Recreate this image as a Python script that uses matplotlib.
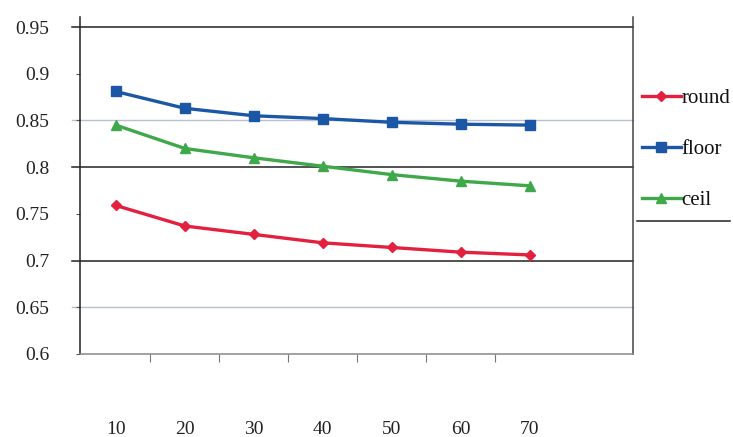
import matplotlib
matplotlib.use("Agg")
import matplotlib.pyplot as plt
from matplotlib.lines import Line2D

# ---- data ----
x_vals = [10, 20, 30, 40, 50, 60, 70]
round_vals = [0.759, 0.737, 0.728, 0.719, 0.714, 0.709, 0.706]
floor_vals = [0.881, 0.863, 0.855, 0.852, 0.848, 0.846, 0.845]
ceil_vals = [0.845, 0.820, 0.810, 0.801, 0.792, 0.785, 0.780]
y_ticks = [0.6, 0.65, 0.7, 0.75, 0.8, 0.85, 0.9, 0.95]
y_labels = ["0.6", "0.65", "0.7", "0.75", "0.8", "0.85", "0.9", "0.95"]
dark_lines = [0.95, 0.8, 0.7]
light_lines = [0.85, 0.65]

plt.rcParams["font.family"] = ["Liberation Serif", "DejaVu Serif"]

fig = plt.figure(figsize=(7.33, 4.37), dpi=100)
ax = fig.add_axes([0.109, 0.190, 0.755, 0.771])

red = "#e3213f"
blue = "#1c57a5"
green = "#3ea84a"

ax.plot(x_vals, round_vals, color=red, lw=2.4, marker="D", ms=5, label="round")
ax.plot(x_vals, floor_vals, color=blue, lw=2.4, marker="s", ms=7, label="floor")
ax.plot(x_vals, ceil_vals, color=green, lw=2.4, marker="^", ms=7, label="ceil")

# grid lines (extend a bit left of the axis like the original)
trans = ax.get_yaxis_transform()
for v in dark_lines:
    ax.plot([-0.015, 1.0], [v, v], transform=trans, color="#222222",
            lw=1.1, clip_on=False, zorder=1)
for v in light_lines:
    ax.plot([-0.015, 1.0], [v, v], transform=trans, color="#b8bfd0",
            lw=1.0, clip_on=False, zorder=1)

ax.set_xlim(4.8, 85)
ax.set_ylim(0.6, 0.9607)

ax.set_yticks(y_ticks)
ax.set_yticklabels(y_labels, fontsize=14, color="#222222")
ax.tick_params(axis="y", length=3, width=0.8, pad=19, color="#555555")

ax.set_xticks(x_vals)
ax.set_xticklabels([str(v) for v in x_vals], fontsize=14, color="#222222")
ax.tick_params(axis="x", which="major", length=0, pad=48)
ax.set_xticks([15, 25, 35, 45, 55, 65], minor=True)
ax.tick_params(axis="x", which="minor", length=6, width=0.8,
               color="#777777", direction="out")

ax.spines["top"].set_visible(False)
ax.spines["left"].set_color("#222222")
ax.spines["right"].set_color("#444444")
ax.spines["bottom"].set_color("#888888")
for s in ["left", "right", "bottom"]:
    ax.spines[s].set_linewidth(1.1)

leg = ax.legend(loc="upper left", bbox_to_anchor=(1.016, 0.787),
                frameon=False, fontsize=15, handlelength=1.85,
                handletextpad=0.05, labelspacing=1.5, borderaxespad=0,
                borderpad=0)
for t in leg.get_texts():
    t.set_color("#111111")

# line under the legend
fig.add_artist(Line2D([637 / 733, 730 / 733], [1 - 221 / 437, 1 - 221 / 437],
                      color="#222222", lw=1.1))

fig.savefig("out.png", dpi=100)
